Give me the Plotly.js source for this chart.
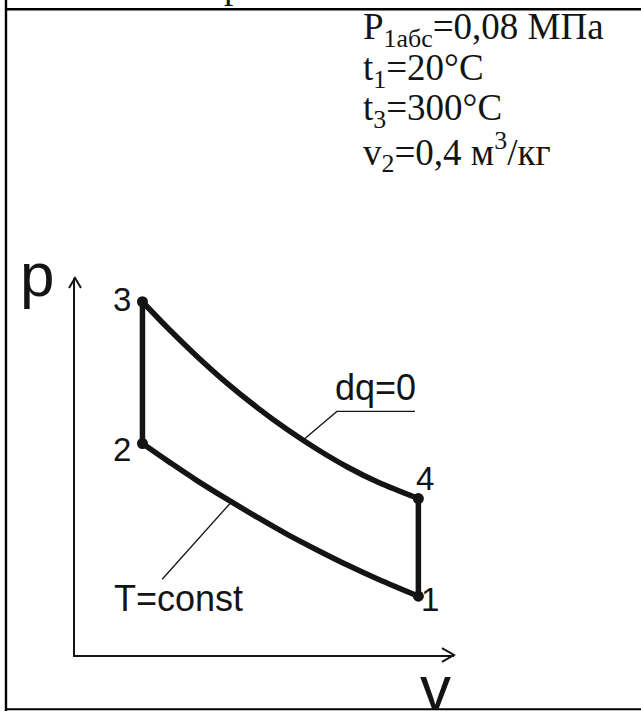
<!DOCTYPE html>
<html>
<head>
<meta charset="utf-8">
<script src="https://cdn.plot.ly/plotly-3.0.1.min.js"></script>
<style>html,body{margin:0;padding:0;background:#fff;}#chart{width:641px;height:711px;}</style>
</head>
<body>
<div id="chart"></div>
<script>
// Schematic p–v cycle (arbitrary units)
const pointNames = ["1", "2", "3", "4"];
const pointV = [9.06, 1.78, 1.78, 9.06];
const pointP = [1.56, 5.61, 9.37, 4.15];

// adiabat 3 -> 4 (dq = 0)
const adiabatV = [1.78, 2.5, 3.2, 4.0, 4.8, 5.6, 6.4, 7.2, 8.0, 9.06];
const adiabatP = [9.37, 8.62, 7.94, 7.22, 6.57, 5.98, 5.45, 4.98, 4.58, 4.15];

// isotherm 2 -> 1 (T = const)
const isothermV = [1.78, 2.5, 3.2, 4.0, 4.8, 5.6, 6.4, 7.2, 8.0, 9.06];
const isothermP = [5.61, 5.11, 4.64, 4.14, 3.66, 3.20, 2.78, 2.38, 2.01, 1.56];

// isochores 2 -> 3 and 4 -> 1
const isochore23V = [1.78, 1.78];
const isochore23P = [5.61, 9.37];
const isochore41V = [9.06, 9.06];
const isochore41P = [4.15, 1.56];

// leader lines of the curve labels
const leaderDqV = [6.02, 6.91, 8.97];
const leaderDqP = [5.70, 6.46, 6.46];
const leaderTV = [4.09, 2.30];
const leaderTP = [4.02, 2.01];

const curveLabels = ["dq=0", "T=const"];
const givenLines = [
  "P<sub>1абс</sub>=0,08 МПа",
  "t<sub>1</sub>=20°C",
  "t<sub>3</sub>=300°C",
  "v<sub>2</sub>=0,4 м<sup>3</sup>/кг"
];
const axisNames = ["p", "v"];

const ink = "#141414";
const thick = {color: ink, width: 5.5};
const thin = {color: ink, width: 1.3};

const traces = [
  {x: isochore23V, y: isochore23P, mode: "lines", line: thick},
  {x: adiabatV, y: adiabatP, mode: "lines", line: Object.assign({shape: "spline"}, thick)},
  {x: isochore41V, y: isochore41P, mode: "lines", line: thick},
  {x: isothermV, y: isothermP, mode: "lines", line: Object.assign({shape: "spline"}, thick)},
  {x: leaderDqV, y: leaderDqP, mode: "lines", line: thin},
  {x: leaderTV, y: leaderTP, mode: "lines", line: thin},
  {x: pointV, y: pointP, mode: "markers", marker: {color: ink, size: 11}}
].map(t => Object.assign({hoverinfo: "skip", showlegend: false, cliponaxis: false}, t));

const sans = {family: "Liberation Sans, Arial, sans-serif", color: ink};
const serif = {family: "Liberation Serif, Times New Roman, serif", color: ink, size: 37};

// label offsets (data units) relative to each point
const labelPos = {
  "1": [9.37, 1.46],
  "2": [1.24, 5.45],
  "3": [1.24, 9.44],
  "4": [9.23, 4.68]
};

const annotations = [];
pointNames.forEach(n => {
  annotations.push({x: labelPos[n][0], y: labelPos[n][1], xref: "x", yref: "y",
    text: n, showarrow: false, xanchor: "center", yanchor: "middle",
    font: Object.assign({size: 33}, sans)});
});
annotations.push({x: 7.94, y: 7.09, xref: "x", yref: "y", text: curveLabels[0],
  showarrow: false, xanchor: "center", yanchor: "middle", font: Object.assign({size: 36}, sans)});
annotations.push({x: 2.74, y: 1.49, xref: "x", yref: "y", text: curveLabels[1],
  showarrow: false, xanchor: "center", yanchor: "middle", font: Object.assign({size: 36}, sans)});
annotations.push({x: -0.100, y: 1.009, xref: "paper", yref: "paper", text: axisNames[0],
  showarrow: false, xanchor: "center", yanchor: "middle", font: Object.assign({size: 62}, sans)});
annotations.push({x: 0.950, y: -0.087, xref: "paper", yref: "paper", text: axisNames[1],
  showarrow: false, xanchor: "center", yanchor: "middle", font: Object.assign({size: 62}, sans)});
const givenY = [1.658, 1.550, 1.444, 1.334];
givenLines.forEach((t, i) => {
  annotations.push({x: 0.754, y: givenY[i], xref: "paper", yref: "paper", text: t,
    showarrow: false, xanchor: "left", yanchor: "middle", font: serif});
});
// cut-off title letter at the very top
annotations.push({x: 0.417, y: 1.717, xref: "paper", yref: "paper", text: "р",
  showarrow: false, xanchor: "center", yanchor: "bottom", font: serif});

const frame = {color: "#000", width: 2.4};
const arrowLine = {color: ink, width: 2};
const shapes = [
  {type: "line", xref: "paper", yref: "paper", x0: -0.1821, x1: -0.1821, y0: 1.74, y1: -0.15, line: frame},
  {type: "line", xref: "paper", yref: "paper", x0: -0.1821, x1: 1.50, y0: 1.713, y1: 1.713, line: frame},
  {type: "line", xref: "paper", yref: "paper", x0: -0.1821, x1: 1.50, y0: -0.1442, y1: -0.1442, line: {color: "#000", width: 2}},
  {type: "path", xref: "paper", yref: "paper", path: "M0.9683,0.0185 L1,0 L0.9683,-0.0185", line: arrowLine},
  {type: "path", xref: "paper", yref: "paper", path: "M-0.0158,0.9735 L0,1 L0.0158,0.9735", line: arrowLine}
];

const axisCommon = {range: [0, 10], showgrid: false, zeroline: false, showticklabels: false,
  ticks: "", showline: true, linecolor: ink, fixedrange: true};

const layout = {
  width: 641, height: 711,
  margin: {l: 75, r: 187, t: 278, b: 56, pad: 0},
  paper_bgcolor: "#fff", plot_bgcolor: "#fff",
  showlegend: false,
  xaxis: Object.assign({}, axisCommon, {linewidth: 2.3}),
  yaxis: Object.assign({}, axisCommon, {linewidth: 2}),
  annotations: annotations,
  shapes: shapes
};

Plotly.newPlot("chart", traces, layout, {staticPlot: true, displayModeBar: false});
</script>
</body>
</html>
